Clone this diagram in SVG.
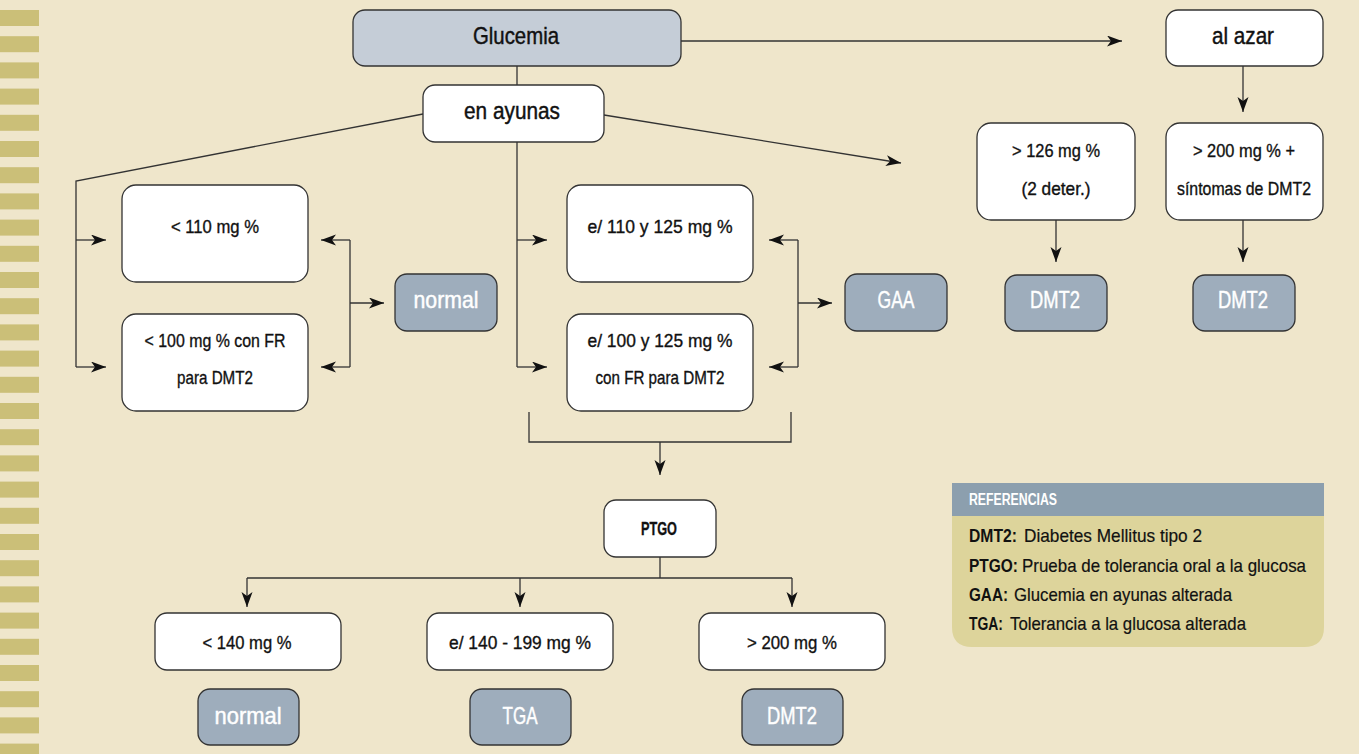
<svg xmlns="http://www.w3.org/2000/svg" width="1359" height="754" viewBox="0 0 1359 754">
<defs>
<style>
.bg{fill:#efe6cb}
.stripe{fill:#cbbf78}
.box{fill:#ffffff;stroke:#333;stroke-width:1.3}
.main{fill:#c5cdd7;stroke:#333;stroke-width:1.3}
.res{fill:#9eadbc;stroke:#333;stroke-width:1.3}
text{font-family:"Liberation Sans",Arial,sans-serif;fill:#111;text-anchor:middle}
.t18{font-size:18.5px;stroke:#111;stroke-width:0.35}
.t24{font-size:24.5px;stroke:#111;stroke-width:0.45}
.tw{font-size:24px;fill:#ffffff;stroke:#ffffff;stroke-width:0.45}
.conn path{fill:none;stroke:#333;stroke-width:1.3}
.conn .a{marker-end:url(#arr)}
.leg{font-size:18.5px;text-anchor:start;stroke:#111;stroke-width:0.2}
.lb{font-size:18.5px;text-anchor:start;font-weight:bold}
</style>
<marker id="arr" markerUnits="userSpaceOnUse" markerWidth="16" markerHeight="12" refX="15" refY="5.5" orient="auto">
<path d="M0,0 L15,5.5 L0,11 L4,5.5 z" fill="#111"/>
</marker>
</defs>
<rect class="bg" x="0" y="0" width="1359" height="754"/>
<g id="stripes">
<rect class="stripe" x="0" y="10" width="39" height="16"/>
<rect class="stripe" x="0" y="36.2" width="39" height="16"/>
<rect class="stripe" x="0" y="62.4" width="39" height="16"/>
<rect class="stripe" x="0" y="88.6" width="39" height="16"/>
<rect class="stripe" x="0" y="114.8" width="39" height="16"/>
<rect class="stripe" x="0" y="141" width="39" height="16"/>
<rect class="stripe" x="0" y="167.2" width="39" height="16"/>
<rect class="stripe" x="0" y="193.4" width="39" height="16"/>
<rect class="stripe" x="0" y="219.6" width="39" height="16"/>
<rect class="stripe" x="0" y="245.8" width="39" height="16"/>
<rect class="stripe" x="0" y="272" width="39" height="16"/>
<rect class="stripe" x="0" y="298.2" width="39" height="16"/>
<rect class="stripe" x="0" y="324.4" width="39" height="16"/>
<rect class="stripe" x="0" y="350.6" width="39" height="16"/>
<rect class="stripe" x="0" y="376.8" width="39" height="16"/>
<rect class="stripe" x="0" y="403" width="39" height="16"/>
<rect class="stripe" x="0" y="429.2" width="39" height="16"/>
<rect class="stripe" x="0" y="455.4" width="39" height="16"/>
<rect class="stripe" x="0" y="481.6" width="39" height="16"/>
<rect class="stripe" x="0" y="507.8" width="39" height="16"/>
<rect class="stripe" x="0" y="534" width="39" height="16"/>
<rect class="stripe" x="0" y="560.2" width="39" height="16"/>
<rect class="stripe" x="0" y="586.4" width="39" height="16"/>
<rect class="stripe" x="0" y="612.6" width="39" height="16"/>
<rect class="stripe" x="0" y="638.8" width="39" height="16"/>
<rect class="stripe" x="0" y="665" width="39" height="16"/>
<rect class="stripe" x="0" y="691.2" width="39" height="16"/>
<rect class="stripe" x="0" y="717.4" width="39" height="16"/>
<rect class="stripe" x="0" y="743.6" width="39" height="16"/>
</g>
<g id="connectors" class="conn">
<path class="a" d="M681,41 H1122"/>
<path d="M517,66 V85"/>
<path d="M423,114 L76,181 V367"/>
<path class="a" d="M76,240 H106"/>
<path class="a" d="M76,367 H106"/>
<path d="M517,142 V367"/>
<path class="a" d="M517,240 H547"/>
<path class="a" d="M517,367 H547"/>
<path class="a" d="M604,115 L901,163"/>
<path d="M350,240 V367"/>
<path class="a" d="M350,240 H321"/>
<path class="a" d="M350,367 H321"/>
<path class="a" d="M350,303 H384"/>
<path d="M798,240 V367"/>
<path class="a" d="M798,240 H769"/>
<path class="a" d="M798,367 H769"/>
<path class="a" d="M798,303 H832"/>
<path d="M529,412 V442 H791 V412"/>
<path class="a" d="M660,442 V475"/>
<path d="M660,557 V578"/>
<path d="M247,578 H792"/>
<path class="a" d="M247,578 V607"/>
<path class="a" d="M520,578 V607"/>
<path class="a" d="M792,578 V607"/>
<path class="a" d="M1243,66 V112"/>
<path class="a" d="M1056,220 V262"/>
<path class="a" d="M1243,220 V262"/>
</g>
<g id="n-glucemia"><rect class="main" x="353" y="10" width="328" height="56" rx="12"/><text class="t24" x="516" y="44" textLength="86" lengthAdjust="spacingAndGlyphs">Glucemia</text></g>
<g id="n-ayunas"><rect class="box" x="423" y="85" width="181" height="57" rx="12"/><text class="t24" x="512" y="119" textLength="96" lengthAdjust="spacingAndGlyphs">en ayunas</text></g>
<g id="n-azar"><rect class="box" x="1166" y="10" width="157" height="56" rx="12"/><text class="t24" x="1243" y="44" textLength="62" lengthAdjust="spacingAndGlyphs">al azar</text></g>
<g id="n-lt110"><rect class="box" x="122" y="185" width="186" height="97" rx="14"/><text class="t18" x="215" y="233" textLength="88" lengthAdjust="spacingAndGlyphs">&lt; 110 mg %</text></g>
<g id="n-lt100"><rect class="box" x="122" y="314" width="186" height="97" rx="14"/><text class="t18" x="215" y="347" textLength="141" lengthAdjust="spacingAndGlyphs">&lt; 100 mg % con FR</text><text class="t18" x="215" y="384" textLength="76" lengthAdjust="spacingAndGlyphs">para DMT2</text></g>
<g id="n-normal1"><rect class="res" x="395" y="274" width="102" height="57" rx="12"/><text class="tw" x="446" y="308" textLength="65" lengthAdjust="spacingAndGlyphs">normal</text></g>
<g id="n-e110"><rect class="box" x="567" y="185" width="186" height="97" rx="14"/><text class="t18" x="660" y="233" textLength="145" lengthAdjust="spacingAndGlyphs">e/ 110 y 125 mg %</text></g>
<g id="n-e100"><rect class="box" x="567" y="314" width="186" height="97" rx="14"/><text class="t18" x="660" y="347" textLength="145" lengthAdjust="spacingAndGlyphs">e/ 100 y 125 mg %</text><text class="t18" x="660" y="384" textLength="129" lengthAdjust="spacingAndGlyphs">con FR para DMT2</text></g>
<g id="n-gaa"><rect class="res" x="845" y="274" width="102" height="57" rx="12"/><text class="tw" x="896" y="308" textLength="37" lengthAdjust="spacingAndGlyphs">GAA</text></g>
<g id="n-gt126"><rect class="box" x="977" y="123" width="158" height="97" rx="14"/><text class="t18" x="1056" y="157" textLength="88" lengthAdjust="spacingAndGlyphs">&gt; 126 mg %</text><text class="t18" x="1056" y="195" textLength="69" lengthAdjust="spacingAndGlyphs">(2 deter.)</text></g>
<g id="n-gt200r"><rect class="box" x="1166" y="123" width="157" height="97" rx="14"/><text class="t18" x="1244" y="157" textLength="102" lengthAdjust="spacingAndGlyphs">&gt; 200 mg % +</text><text class="t18" x="1244" y="195" textLength="134" lengthAdjust="spacingAndGlyphs">síntomas de DMT2</text></g>
<g id="n-dmt2a"><rect class="res" x="1005" y="275" width="102" height="56" rx="12"/><text class="tw" x="1055" y="308" textLength="50" lengthAdjust="spacingAndGlyphs">DMT2</text></g>
<g id="n-dmt2b"><rect class="res" x="1193" y="275" width="102" height="56" rx="12"/><text class="tw" x="1243" y="308" textLength="50" lengthAdjust="spacingAndGlyphs">DMT2</text></g>
<g id="n-ptgo"><rect class="box" x="604" y="500" width="112" height="57" rx="12"/><text class="t18" x="659" y="535" font-weight="bold" textLength="36" lengthAdjust="spacingAndGlyphs">PTGO</text></g>
<g id="n-lt140"><rect class="box" x="155" y="613" width="186" height="57" rx="12"/><text class="t18" x="247" y="649" textLength="89" lengthAdjust="spacingAndGlyphs">&lt; 140 mg %</text></g>
<g id="n-e140"><rect class="box" x="427" y="613" width="186" height="57" rx="12"/><text class="t18" x="520" y="649" textLength="142" lengthAdjust="spacingAndGlyphs">e/ 140 - 199 mg %</text></g>
<g id="n-gt200"><rect class="box" x="699" y="613" width="186" height="57" rx="12"/><text class="t18" x="792" y="649" textLength="90" lengthAdjust="spacingAndGlyphs">&gt; 200 mg %</text></g>
<g id="n-normal2"><rect class="res" x="198" y="689" width="101" height="56" rx="12"/><text class="tw" x="248" y="724" textLength="67" lengthAdjust="spacingAndGlyphs">normal</text></g>
<g id="n-tga"><rect class="res" x="470" y="689" width="101" height="56" rx="12"/><text class="tw" x="520" y="724" textLength="35" lengthAdjust="spacingAndGlyphs">TGA</text></g>
<g id="n-dmt2c"><rect class="res" x="742" y="689" width="101" height="56" rx="12"/><text class="tw" x="792" y="724" textLength="50" lengthAdjust="spacingAndGlyphs">DMT2</text></g>
<g id="legend">
<path d="M952,483 H1324 V627 Q1324,647 1304,647 H972 Q952,647 952,627 Z" fill="#ddd49b"/>
<rect x="952" y="483" width="372" height="33" fill="#8c9fae"/>
<text x="969" y="505" style="font-size:16px;font-weight:bold;fill:#ffffff;text-anchor:start" textLength="88" lengthAdjust="spacingAndGlyphs">REFERENCIAS</text>
<text class="lb" x="969" y="542" textLength="48" lengthAdjust="spacingAndGlyphs">DMT2:</text>
<text class="leg" x="1024" y="542" textLength="178" lengthAdjust="spacingAndGlyphs">Diabetes Mellitus tipo 2</text>
<text class="lb" x="969" y="572" textLength="49" lengthAdjust="spacingAndGlyphs">PTGO:</text>
<text class="leg" x="1022" y="572" textLength="284" lengthAdjust="spacingAndGlyphs">Prueba de tolerancia oral a la glucosa</text>
<text class="lb" x="969" y="601" textLength="39" lengthAdjust="spacingAndGlyphs">GAA:</text>
<text class="leg" x="1014" y="601" textLength="218" lengthAdjust="spacingAndGlyphs">Glucemia en ayunas alterada</text>
<text class="lb" x="969" y="630" textLength="34" lengthAdjust="spacingAndGlyphs">TGA:</text>
<text class="leg" x="1010" y="630" textLength="236" lengthAdjust="spacingAndGlyphs">Tolerancia a la glucosa alterada</text>
</g>
</svg>
